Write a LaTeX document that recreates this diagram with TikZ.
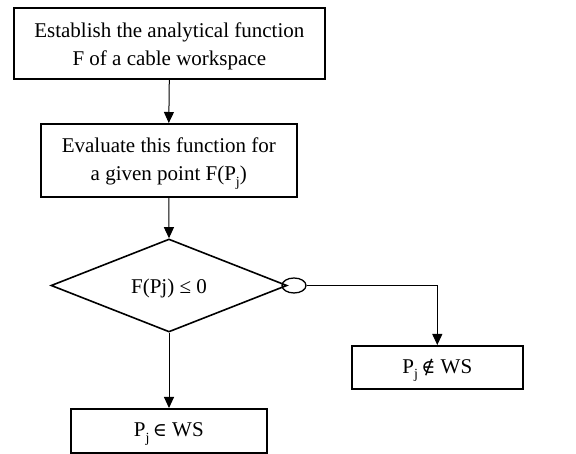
\documentclass[tikz,border=0pt]{standalone}
\usepackage{fontspec}
\setmainfont{Liberation Serif}
\newfontfamily\relfont{DejaVu Serif}
\usetikzlibrary{arrows.meta,shapes.geometric}
% lowered index letter, as used for the point P_j
\newcommand{\idx}[1]{\raisebox{-0.28em}{\fontsize{14}{14}\selectfont #1}}
% set-membership signs taken from a font that has them as single glyphs
\newcommand{\rel}[1]{{\relfont\fontsize{19}{19}\selectfont #1}}
\begin{document}
\begin{tikzpicture}[x=1pt,y=-1pt,
  every node/.style={font=\fontsize{21}{28}\selectfont, align=center, inner sep=0pt},
  stepbox/.style={draw, line width=1.6pt, rectangle, anchor=north west},
  txt/.style={yshift=-3pt},
  link/.style={line width=1pt, -{Triangle[length=11pt,width=10pt]}},
  plain/.style={line width=1pt}]
\useasboundingbox (0,0) rectangle (576,454);
% process boxes
\node[stepbox, minimum width=311pt, minimum height=71pt] (est) at (13,7) {};
\node[txt] (estT) at (est.center) {Establish the analytical function\\F of a cable workspace};
\node[stepbox, minimum width=256pt, minimum height=73pt] (eval) at (40,123) {};
\node[txt] (evalT) at (eval.center) {Evaluate this function for\\a given point F(P\idx{j})};
% decision
\node[draw, line width=1.6pt, diamond, aspect=2.54, minimum width=236pt, minimum height=93pt] (dec) at (169,285.5) {};
\node[txt] (decT) at (dec.center) {F(Pj) ≤ 0};
% "no" marker on the right vertex
\node[draw, line width=1.3pt, ellipse, minimum width=24pt, minimum height=15pt] (no) at (294,285.5) {};
% results
\node[stepbox, minimum width=171pt, minimum height=43pt] (out) at (351,345) {};
\node[txt] (outT) at (out.center) {P\idx{j}\,\rel{∉} WS};
\node[stepbox, minimum width=196pt, minimum height=44pt] (in) at (70,408) {};
\node[txt] (inT) at (in.center) {P\idx{j}\,\rel{∈} WS};
% connectors
\draw[link] (est.south) -- (eval.north);
\draw[link] (eval.south) -- (dec.north);
\draw[link] (dec.south) -- (dec.south |- in.north);
\coordinate (turn) at (out.north |- no.east);
\draw[plain] (no.east) -- (turn);
\draw[link] (turn) -- (out.north);
\end{tikzpicture}
\end{document}
